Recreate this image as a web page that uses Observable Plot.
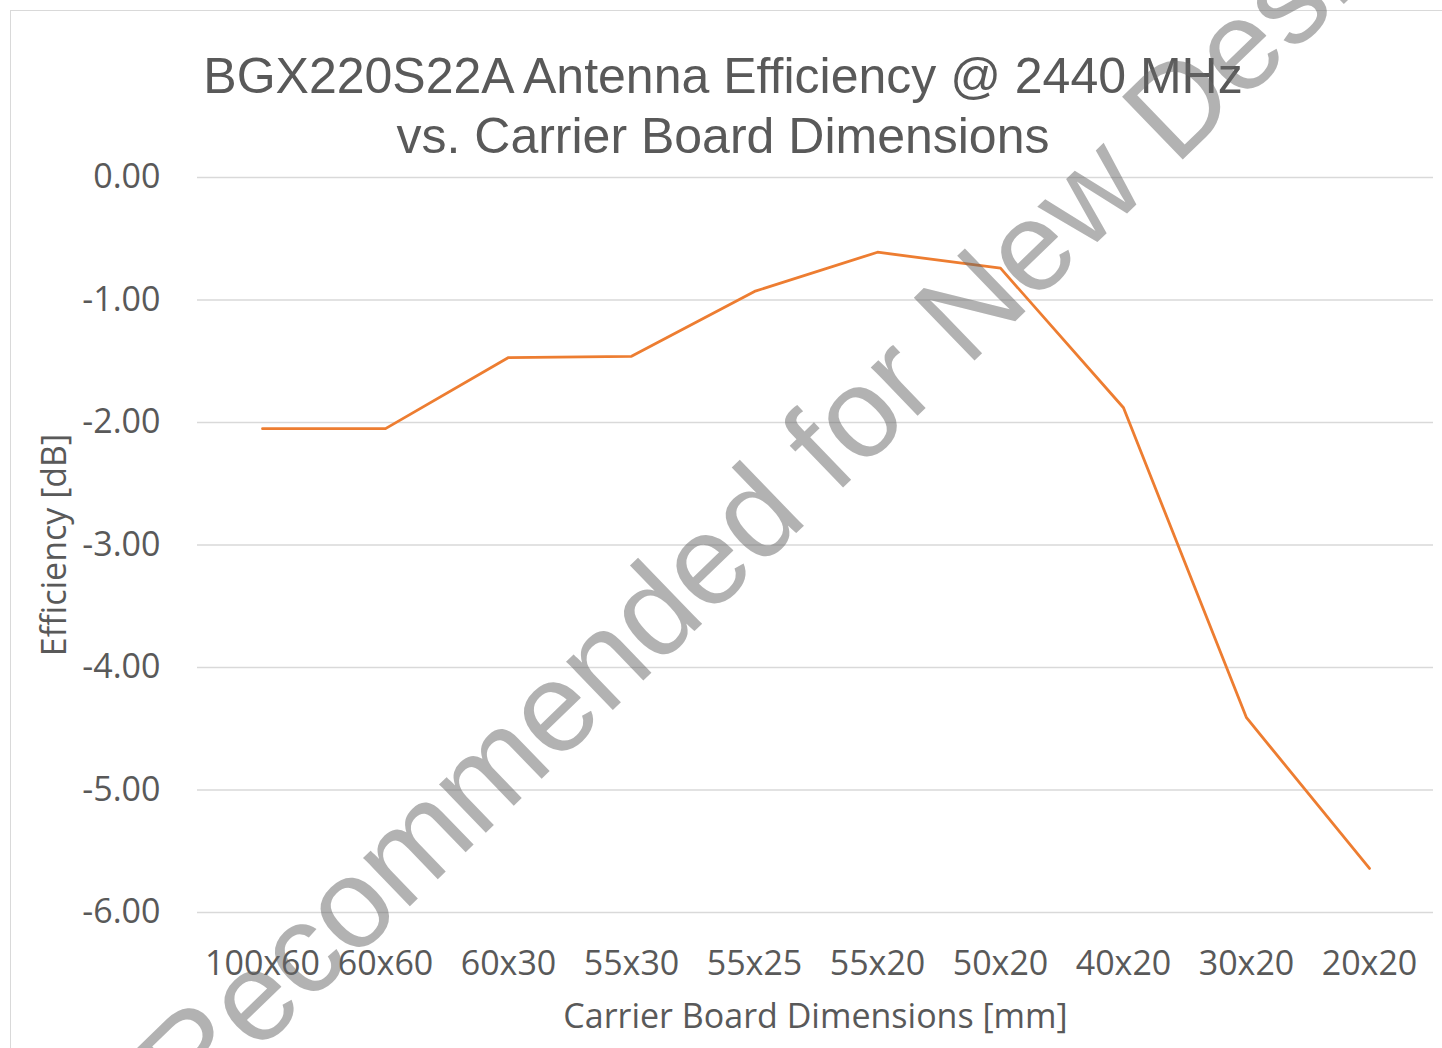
<!DOCTYPE html>
<html><head><meta charset="utf-8">
<script src="https://cdn.jsdelivr.net/npm/d3@7"></script>
<script src="https://cdn.jsdelivr.net/npm/@observablehq/plot@0.6"></script>
<style>
body{margin:0;background:#fff;width:1442px;height:1048px;overflow:hidden;position:relative;}
#frame{position:absolute;left:10px;top:10px;width:1500px;height:1100px;border:1px solid #d9d9d9;}
#title{position:absolute;left:0;top:46px;width:1446px;text-align:center;font-family:"Liberation Sans",Arial,sans-serif;font-size:50px;line-height:60px;color:#595959;}
#chart{position:absolute;left:0;top:137px;}
#wm{position:absolute;left:0;top:0;pointer-events:none;}
</style></head><body>
<div id="frame"></div>
<div id="title">BGX220S22A Antenna Efficiency @ 2440 MHz<br>vs. Carrier Board Dimensions</div>
<div id="chart"></div>
<script>
const boards = ["100x60","60x60","60x30","55x30","55x25","55x20","50x20","40x20","30x20","20x20"];
const efficiency = [-2.05,-2.05,-1.47,-1.46,-0.93,-0.61,-0.74,-1.88,-4.41,-5.64];
const yTicks = [0,-1,-2,-3,-4,-5,-6];
const xLabel = "Carrier Board Dimensions [mm]";
const yLabel = "Efficiency [dB]";
const watermark = "Not Recommended for New Designs";

const data = boards.map((b,i)=>({board:b, eff:efficiency[i]}));
const fmt = d => d.toFixed(2);

const chart = Plot.plot({
  width:1442, height:911,
  marginLeft:197, marginRight:9, marginTop:40, marginBottom:136,
  style:{fontFamily:'"Open Sans", sans-serif', fontSize:"34px", color:"#595959", background:"transparent", overflow:"visible"},
  x:{type:"point", domain:boards, padding:0.5, label:null},
  y:{domain:[-6,0], label:null},
  marks:[
    Plot.gridY(yTicks,{stroke:"#d9d9d9", strokeOpacity:1, strokeWidth:1.3}),
    Plot.axisY(yTicks,{tickSize:0, tickPadding:37, tickFormat:fmt, fill:"#595959", fontSize:34, label:null}),
    Plot.axisX({tickSize:0, tickPadding:38, fill:"#595959", fontSize:34, label:null}),
    Plot.line(data,{x:"board", y:"eff", stroke:"#ED7D31", strokeWidth:2.8}),
    Plot.text([yLabel],{text:d=>d, frameAnchor:"left", textAnchor:"middle", rotate:-90, dx:-142, fontSize:34, fill:"#595959"}),
    Plot.text([xLabel],{text:d=>d, frameAnchor:"bottom", dy:115, fontSize:34, fill:"#595959"})
  ]
});
document.getElementById("chart").appendChild(chart);

const wm = d3.select("body").append("svg").attr("id","wm").attr("width",1442).attr("height",1048);
wm.append("text")
  .attr("transform","translate(764,564) rotate(-44)")
  .attr("text-anchor","middle")
  .attr("font-family","Liberation Sans, Arial, sans-serif")
  .attr("font-size",127)
  .attr("fill","#666")
  .attr("fill-opacity",0.5)
  .text(watermark);
</script>
</body></html>
